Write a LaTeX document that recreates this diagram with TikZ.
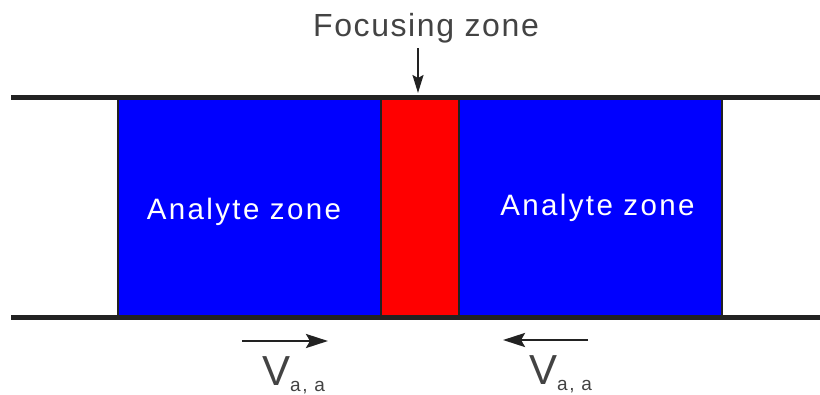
\documentclass[tikz,border=0pt]{standalone}
\usepackage{fontspec}
\setmainfont{Liberation Sans}
\usetikzlibrary{arrows.meta}
\definecolor{edge}{HTML}{222222}
\tikzset{
  zone/.style={draw=edge, line width=2pt, minimum height=220pt, inner sep=0pt, outer sep=0pt},
  wall/.style={draw=edge, line width=5pt},
  lbl/.style={font=\fontsize{32}{32}\selectfont\addfontfeature{LetterSpace=5}, inner sep=0pt},
  zonelbl/.style={font=\fontsize{29.5}{30}\selectfont\addfontfeature{LetterSpace=8}, text=white, inner sep=0pt},
  varrow/.style={draw=edge, line width=2.8pt, -{Stealth[length=22pt,width=14pt,inset=4pt]}},
  farrow/.style={draw=edge, line width=2pt, -{Stealth[length=18pt,width=11pt,inset=3pt]}},
  vlbl/.style={font=\fontsize{42}{42}\selectfont, text=edge!85, inner sep=0pt},
  sub/.style={}
}
\newcommand{\subaa}{\raisebox{-6pt}{\fontsize{19}{19}\selectfont\addfontfeature{LetterSpace=8}a, a}}
\begin{document}
\begin{tikzpicture}[x=1pt,y=1pt]
\useasboundingbox (0,0) rectangle (820,-394);
\node[zone, fill=blue, minimum width=263pt] (lz) at (249.5,-207) {};
\node[zone, fill=red, minimum width=78pt] (fz) at (420,-207) {};
\node[zone, fill=blue, minimum width=263pt] (rz) at (590.5,-207) {};
\coordinate (tl) at (11,-97);
\coordinate (tr) at (820,-97);
\coordinate (bl) at (11,-317);
\coordinate (br) at (820,-317);
\draw[wall] (tl) -- (tr);
\draw[wall] (bl) -- (br);
\node[zonelbl, anchor=base] (lt) at (244,-219) {Analyte zone};
\node[zonelbl, anchor=base] (rt) at (597.5,-215) {Analyte zone};
\node[lbl, text=edge!85, anchor=base] (ft) at (426,-36.7) {Focusing zone};
\coordinate (fs) at (418,-48);
\coordinate (fe) at (418,-93);
\draw[farrow] (fs) -- (fe);
\coordinate (la) at (242,-341);
\coordinate (lb) at (328,-341);
\draw[varrow] (la) -- (lb);
\coordinate (ra) at (588,-340);
\coordinate (rb) at (503,-340);
\draw[varrow] (ra) -- (rb);
\node[vlbl, anchor=base west] (lv) at (262,-385) {V\subaa};
\node[vlbl, anchor=base west] (rv) at (529,-384) {V\subaa};
\end{tikzpicture}
\end{document}
